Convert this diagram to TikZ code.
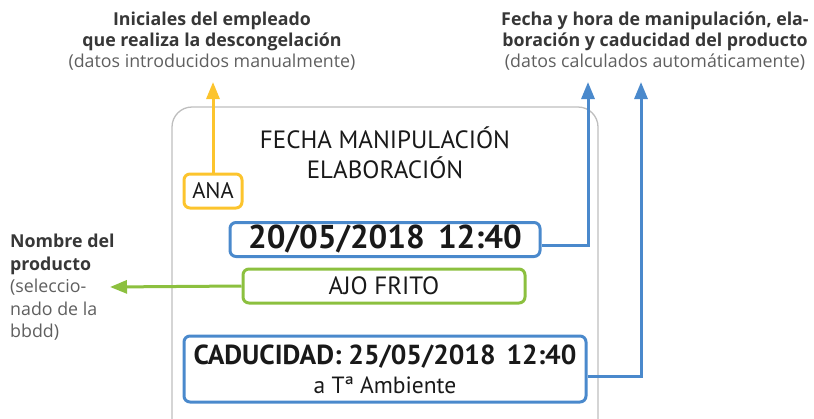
\documentclass[tikz,border=0pt]{standalone}
\usepackage{fontspec}
\setmainfont{Open Sans}
\newfontfamily\boxfont{PT Sans}
\usetikzlibrary{arrows.meta,positioning,calc}
\definecolor{cyel}{RGB}{252,196,45}
\definecolor{cblue}{RGB}{74,137,204}
\definecolor{cgreen}{RGB}{140,192,63}
\definecolor{cgray}{RGB}{190,190,190}
\definecolor{ctxt}{RGB}{55,55,55}
\definecolor{csub}{RGB}{95,95,95}
\definecolor{cbox}{RGB}{25,25,25}
\tikzset{
  fieldbox/.style={draw, line width=3pt, rounded corners=6pt, inner sep=0pt, text=cbox},
  conn/.style={line width=3pt, -{Triangle[length=17pt,width=13pt]}},
  ann/.style={text=ctxt, inner sep=0pt, font=\fontsize{17.8}{21}\selectfont},
}
\begin{document}
\begin{tikzpicture}[x=1pt,y=-1pt]
\useasboundingbox (0,0) rectangle (814,418);
\begin{scope}
\clip (0,0) rectangle (814,418);
\draw[cgray, line width=1.3pt, rounded corners=20pt] (172,107) rectangle (598,440);
\end{scope}
% title
\node[align=center, text=cbox, inner sep=0pt, font=\boxfont\fontsize{25}{30}\selectfont] (title) at (385,153) {FECHA MANIPULACIÓN\\ELABORACIÓN};
% boxes
\node[fieldbox, draw=cyel, minimum width=58pt, minimum height=34pt, font=\boxfont\fontsize{22.5}{26}\selectfont] (ana) at (213,191) {ANA};
\node[fieldbox, draw=cblue, minimum width=310pt, minimum height=34pt, font=\boxfont\bfseries\fontsize{33}{38}\selectfont] (date) at (385,239.5) {20/05/2018\hspace{0.4em}12:40};
\node[fieldbox, draw=cgreen, minimum width=282pt, minimum height=34pt, font=\boxfont\fontsize{25}{30}\selectfont] (ajo) at (384,286) {AJO FRITO};
\node[fieldbox, draw=cblue, minimum width=402pt, minimum height=66pt, align=center, font=\boxfont\fontsize{27.5}{30}\selectfont] (cad) at (385,369) {\textbf{CADUCIDAD: 25/05/2018\hspace{0.4em}12:40}\\[-1pt]{\fontsize{23.5}{26}\selectfont a Tª Ambiente}};
% annotations
\node[ann, align=center, anchor=north] (annL) at (212,12) {\textbf{Iniciales del empleado}\\\textbf{que realiza la descongelación}\\{\color{csub}\fontseries{l}\selectfont (datos introducidos manualmente)}};
\node[ann, align=center, anchor=north] (annR) at (655,12) {\textbf{Fecha y hora de manipulación, ela-}\\\textbf{boración y caducidad del producto}\\{\color{csub}\fontseries{l}\selectfont (datos calculados automáticamente)}};
\node[ann, align=left, anchor=north west, font=\fontsize{17.8}{22.5}\selectfont] (annP) at (10,234) {\textbf{Nombre del}\\\textbf{producto}\\{\color{csub}\fontseries{l}\selectfont (seleccio-}\\{\color{csub}\fontseries{l}\selectfont nado de la}\\{\color{csub}\fontseries{l}\selectfont bbdd)}};
% connectors
\coordinate (anaTip) at (213,82);
\coordinate (dateTip) at (588,82);
\coordinate (cadTip) at (641,82);
\coordinate (ajoTip) at (110,287);
\draw[conn, cyel] (ana.north) -- (anaTip);
\draw[conn, cblue] ([yshift=-5.5pt]date.east) -| (dateTip);
\draw[conn, cblue] ([yshift=-7pt]cad.east) -| (cadTip);
\draw[conn, cgreen] (ajo.west) -- (ajoTip);
\end{tikzpicture}
\end{document}
